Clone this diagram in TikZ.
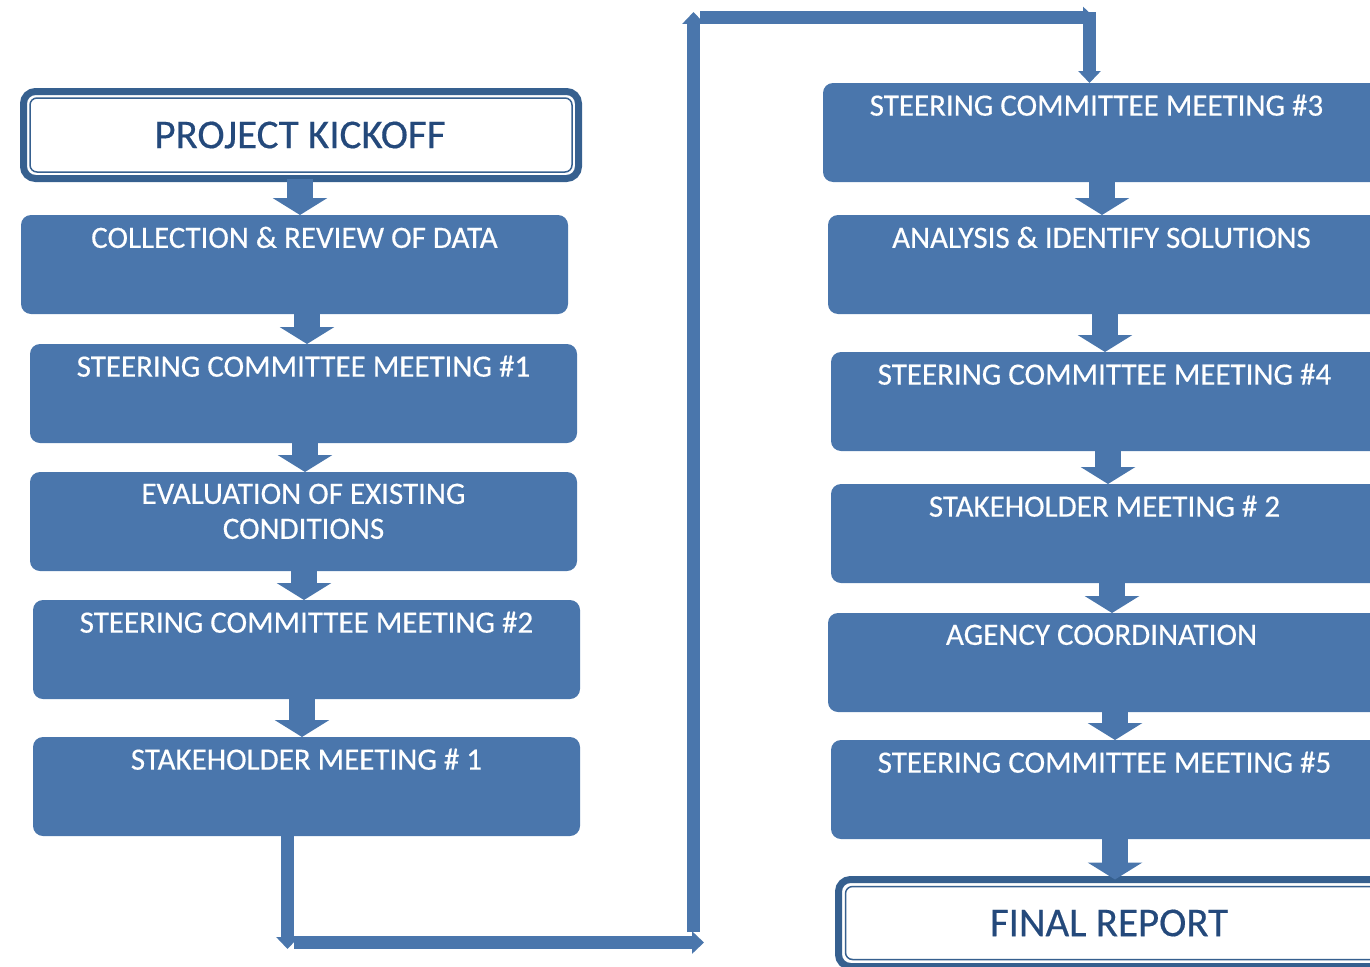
\documentclass[tikz,border=0pt]{standalone}
\usepackage{fontspec}
\setmainfont{Carlito}
\newfontfamily\boxfont[FakeBold=0.4]{Carlito}
\usetikzlibrary{arrows.meta}
\definecolor{boxblue}{HTML}{4A76AC}
\definecolor{darkblue}{HTML}{36608F}
\definecolor{textblue}{HTML}{24497B}
\begin{document}
\begin{tikzpicture}[x=1pt,y=-1pt,
  stepbox/.style={fill=boxblue, rounded corners=10pt, minimum width=547pt, minimum height=99pt, anchor=north west, inner sep=0pt, outer sep=0pt},
  widebox/.style={stepbox, minimum width=570pt},
  boxtext/.style={text=white, font=\boxfont\fontsize{31}{35}\selectfont, align=center, anchor=north, inner sep=0pt},
  flow/.style={boxblue, line width=26pt, -{Triangle[width=54pt,length=17pt]}},
  link/.style={boxblue, line width=13pt, -{Triangle[width=22pt,length=12pt]}},
  endbox/.style={draw=darkblue, line width=7pt, fill=white, rounded corners=12pt, anchor=north west, inner sep=0pt, outer sep=0pt},
  innerline/.style={draw=darkblue, line width=1.5pt, rounded corners=7pt},
  endtext/.style={text=textblue, font=\boxfont\fontsize{41}{44}\selectfont, inner sep=0pt}]
\useasboundingbox (0,0) rectangle (1370,966);

% left column
\node[endbox, minimum width=555pt, minimum height=87pt] (kick) at (23.5,91.5) {};
\draw[innerline] ([shift={(6.5,6.5)}]kick.north west) rectangle ([shift={(-6.5,-6.5)}]kick.south east);
\node[endtext] (kickt) at (300,135) {PROJECT KICKOFF};

\node[stepbox] (col) at (21,215) {};
\node[boxtext] (colt) at ([xshift=273.5pt,yshift=-11.5pt]col.north west) {COLLECTION \& REVIEW OF DATA};
\node[stepbox] (scma) at (30,344) {};
\node[boxtext] (scmat) at ([xshift=273.5pt,yshift=-11.5pt]scma.north west) {STEERING COMMITTEE MEETING \#1};
\node[stepbox] (eval) at (30,472) {};
\node[boxtext] (evalt) at ([xshift=273.5pt,yshift=-11.5pt]eval.north west) {EVALUATION OF EXISTING\\CONDITIONS};
\node[stepbox] (scmb) at (33,600) {};
\node[boxtext] (scmbt) at ([xshift=273.5pt,yshift=-11.5pt]scmb.north west) {STEERING COMMITTEE MEETING \#2};
\node[stepbox] (stka) at (33,737) {};
\node[boxtext] (stkat) at ([xshift=273.5pt,yshift=-11.5pt]stka.north west) {STAKEHOLDER MEETING \# 1};

% right column
\node[widebox] (scmc) at (823,83) {};
\node[boxtext] (scmct) at ([xshift=273.5pt,yshift=-11.5pt]scmc.north west) {STEERING COMMITTEE MEETING \#3};
\node[widebox] (ana) at (828,215) {};
\node[boxtext] (anat) at ([xshift=273.5pt,yshift=-11.5pt]ana.north west) {ANALYSIS \& IDENTIFY SOLUTIONS};
\node[widebox] (scmd) at (831,352) {};
\node[boxtext] (scmdt) at ([xshift=273.5pt,yshift=-11.5pt]scmd.north west) {STEERING COMMITTEE MEETING \#4};
\node[widebox] (stkb) at (831,484) {};
\node[boxtext] (stkbt) at ([xshift=273.5pt,yshift=-11.5pt]stkb.north west) {STAKEHOLDER MEETING \# 2};
\node[widebox] (agc) at (828,613) {};
\node[boxtext] (agct) at ([xshift=273.5pt,yshift=-11.5pt]agc.north west) {AGENCY COORDINATION};
\node[widebox] (scme) at (831,740) {};
\node[boxtext] (scmet) at ([xshift=273.5pt,yshift=-11.5pt]scme.north west) {STEERING COMMITTEE MEETING \#5};
\node[endbox, minimum width=600pt, minimum height=87pt] (fin) at (838.5,879.5) {};
\draw[innerline] ([shift={(7,7)}]fin.north west) rectangle ([shift={(-7,-7)}]fin.south east);
\node[endtext] (fint) at (1109,923) {FINAL REPORT};

% block arrows
\draw[flow] ([xshift=-1pt]kick.south) -- ([xshift=-1pt]kick.south |- col.north);
\draw[flow] ([xshift=12.5pt]col.south) -- ([xshift=12.5pt]col.south |- scma.north);
\draw[flow] ([xshift=1.5pt]scma.south) -- ([xshift=1.5pt]scma.south |- eval.north);
\draw[flow] ([xshift=0.5pt]eval.south) -- ([xshift=0.5pt]eval.south |- scmb.north);
\draw[flow] ([xshift=-4.5pt]scmb.south) -- ([xshift=-4.5pt]scmb.south |- stka.north);
\draw[flow] ([xshift=279pt]scmc.south west) -- ([xshift=279pt]scmc.south west |- ana.north);
\draw[flow] ([xshift=277pt]ana.south west) -- ([xshift=277pt]ana.south west |- scmd.north);
\draw[flow] ([xshift=277pt]scmd.south west) -- ([xshift=277pt]scmd.south west |- stkb.north);
\draw[flow] ([xshift=281pt]stkb.south west) -- ([xshift=281pt]stkb.south west |- agc.north);
\draw[flow] ([xshift=287pt]agc.south west) -- ([xshift=287pt]agc.south west |- scme.north);
\draw[flow] ([xshift=284pt]scme.south west) -- ([xshift=284pt]scme.south west |- fin.north);

% long link between columns
\coordinate (la) at (287.5,949);
\coordinate (lb) at (294,942.5);
\coordinate (lc) at (704,942.5);
\coordinate (ld) at (693.5,932);
\coordinate (le) at (693.5,12);
\coordinate (lf) at (700,18);
\coordinate (lg) at (1095,18);
\coordinate (lh) at (1089.5,12.5);
\draw[link] ([xshift=254.5pt]stka.south west) -- (la);
\draw[link] (lb) -- (lc);
\draw[link] (ld) -- (le);
\draw[link] (lf) -- (lg);
\draw[link] (lh) -- (lh |- scmc.north);
\end{tikzpicture}
\end{document}
